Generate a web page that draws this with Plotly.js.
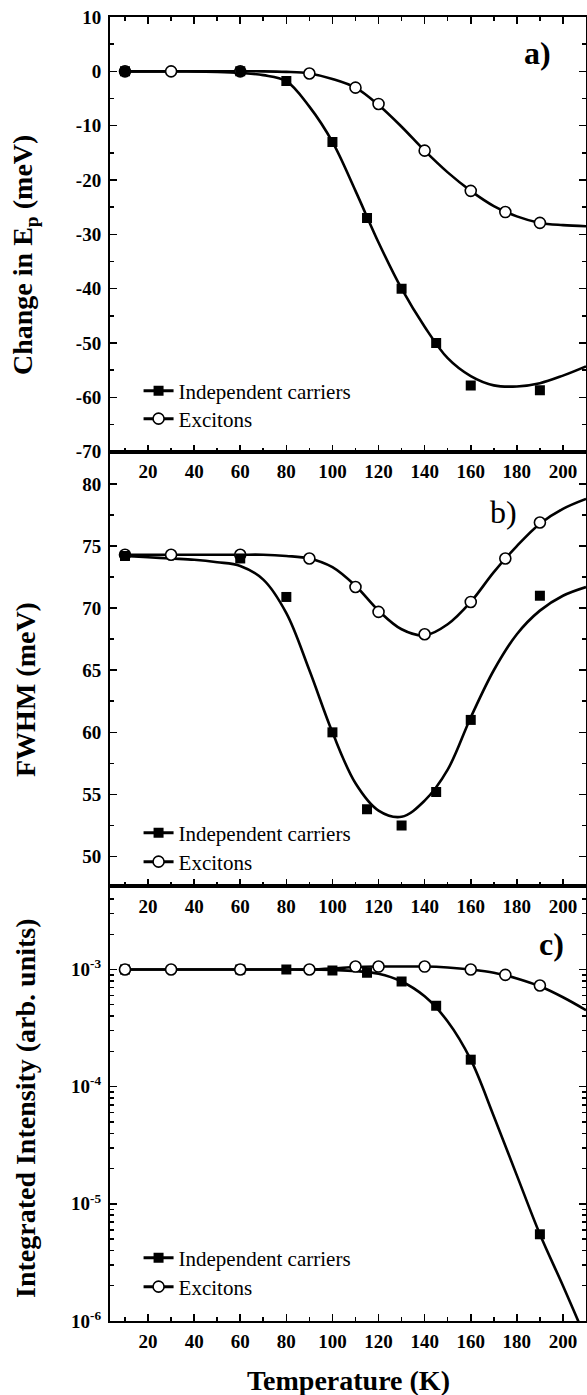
<!DOCTYPE html>
<html>
<head>
<meta charset="utf-8">
<script src="https://cdn.plot.ly/plotly-3.0.1.min.js"></script>
<style>html,body{margin:0;padding:0;background:#fff}#chart{width:587px;height:1395px}</style>
</head>
<body>
<div id="chart"></div>
<script>
// Temperatures (K)
const tempInd = [10, 60, 80, 100, 115, 130, 145, 160, 190];
const tempExc = [10, 30, 60, 90, 110, 120, 140, 160, 175, 190];
const tempFit = [10, 20, 30, 40, 50, 60, 70, 80, 90, 100, 110, 120, 130, 140, 150, 160, 170, 180, 190, 200, 210];

// Panel a: change in Ep (meV)
const epInd = [0, 0, -1.8, -13, -27, -40, -50, -57.8, -58.7];
const epExc = [0, 0, 0, -0.4, -3, -6, -14.6, -22, -25.9, -27.9];
const epIndFit = [0, 0, 0, 0, -0.1, -0.3, -0.7, -1.8, -6.5, -13, -22, -31.5, -40, -47, -52.8, -56.1, -57.8, -58, -57.4, -56, -54.3];
const epExcFit = [0, 0, 0, 0, 0, 0, 0, -0.1, -0.4, -1.4, -3, -6.2, -10.2, -14.6, -18.6, -22, -24.8, -26.7, -27.9, -28.3, -28.5];

// Panel b: FWHM (meV)
const fwInd = [74.2, 74.0, 70.9, 60.0, 53.8, 52.5, 55.2, 61.0, 71.0];
const fwExc = [74.3, 74.3, 74.3, 74.0, 71.7, 69.7, 67.9, 70.5, 74.0, 76.9];
const fwIndFit = [74.2, 74.1, 74.0, 73.9, 73.7, 73.4, 72.3, 69.6, 65.0, 60.0, 55.9, 53.7, 53.2, 54.5, 57.0, 61.2, 65.0, 67.9, 69.8, 71.0, 71.7];
const fwExcFit = [74.3, 74.3, 74.3, 74.3, 74.3, 74.3, 74.3, 74.2, 74.0, 73.3, 71.8, 69.8, 68.3, 67.8, 68.7, 70.5, 72.9, 75.0, 76.8, 78.0, 78.8];

// Panel c: integrated intensity (arb. units)
const iiInd = [1.0e-3, 1.0e-3, 1.0e-3, 9.8e-4, 9.4e-4, 7.9e-4, 4.9e-4, 1.7e-4, 5.5e-6];
const iiExc = [1.0e-3, 1.0e-3, 1.0e-3, 1.0e-3, 1.06e-3, 1.06e-3, 1.06e-3, 1.0e-3, 9.0e-4, 7.3e-4];
const iiIndFit = [1e-3, 1e-3, 1e-3, 1e-3, 1e-3, 1e-3, 1e-3, 1e-3, 1e-3, 9.9e-4, 9.7e-4, 9.2e-4, 7.9e-4, 5.9e-4, 3.6e-4, 1.7e-4, 5.6e-5, 1.75e-5, 5.5e-6, 2.0e-6, 7.0e-7];
const iiExcFit = [1e-3, 1e-3, 1e-3, 1e-3, 1e-3, 1e-3, 1e-3, 1e-3, 1e-3, 1.02e-3, 1.05e-3, 1.06e-3, 1.06e-3, 1.06e-3, 1.04e-3, 1.0e-3, 9.4e-4, 8.4e-4, 7.2e-4, 5.8e-4, 4.5e-4];

// Tick labels
const xTickVals = [20, 40, 60, 80, 100, 120, 140, 160, 180, 200];
const aTickVals = [-70, -60, -50, -40, -30, -20, -10, 0, 10];
const aTickText = ['-70', '-60', '-50', '-40', '-30', '-20', '-10', '0', '10'];
const bTickVals = [50, 55, 60, 65, 70, 75, 80];
const cTickVals = [1e-6, 1e-5, 1e-4, 1e-3];
const cTickText = ['10<sup>-6</sup>', '10<sup>-5</sup>', '10<sup>-4</sup>', '10<sup>-3</sup>'];

const seriesNames = ['Independent carriers', 'Excitons'];
const panelLabels = ['a)', 'b)', 'c)'];
const yTitles = ['Change in E<sub>p</sub> (meV)', 'FWHM (meV)', 'Integrated Intensity (arb. units)'];
const xTitle = 'Temperature (K)';

const FONT = "'Liberation Serif', 'Times New Roman', serif";
const sqMarker = {symbol: 'square', size: 10, color: '#000', line: {width: 0}};
const ciMarker = {symbol: 'circle', size: 11, color: '#fff', line: {width: 1.6, color: '#000'}};
const fitLine = {color: '#000', width: 2.6, shape: 'spline', smoothing: 1};

// legend rows: pixel centre of each legend entry, per panel
const legendRowsPx = [[391, 419], [833, 862], [1258, 1287]];

const traces = [];
const legends = {};
let legendCount = 0;
function legendCfg(py) {
  return {x: 0.06, y: (1321 - py) / 1304, xanchor: 'left', yanchor: 'middle', bgcolor: 'rgba(0,0,0,0)', borderwidth: 0,
    font: {family: FONT, size: 21, color: '#000'}, itemwidth: 30};
}
function nextLegend(py) {
  legendCount += 1;
  const key = legendCount === 1 ? 'legend' : 'legend' + legendCount;
  legends[key] = legendCfg(py);
  return key;
}
function panel(n, indY, excY, indFit, excFit, squaresOnTop) {
  const xa = n === 1 ? 'x' : 'x' + n;
  const ya = n === 1 ? 'y' : 'y' + n;
  traces.push({x: tempFit, y: indFit, xaxis: xa, yaxis: ya, mode: 'lines', line: fitLine, showlegend: false, hoverinfo: 'skip'});
  traces.push({x: tempFit, y: excFit, xaxis: xa, yaxis: ya, mode: 'lines', line: fitLine, showlegend: false, hoverinfo: 'skip'});
  const sq = {x: tempInd, y: indY, xaxis: xa, yaxis: ya, mode: 'markers', marker: sqMarker, showlegend: false};
  const ci = {x: tempExc, y: excY, xaxis: xa, yaxis: ya, mode: 'markers', marker: ciMarker, showlegend: false};
  if (squaresOnTop) { traces.push(ci, sq); } else { traces.push(sq, ci); }
  const rows = legendRowsPx[n - 1];
  traces.push({x: [null], y: [null], xaxis: xa, yaxis: ya, mode: 'lines+markers', name: seriesNames[0],
    line: {color: '#000', width: 3}, marker: sqMarker, legend: nextLegend(rows[0])});
  traces.push({x: [null], y: [null], xaxis: xa, yaxis: ya, mode: 'lines+markers', name: seriesNames[1],
    line: {color: '#000', width: 3}, marker: ciMarker, legend: nextLegend(rows[1])});
}
panel(1, epInd, epExc, epIndFit, epExcFit, true);
panel(2, fwInd, fwExc, fwIndFit, fwExcFit, true);
panel(3, iiInd, iiExc, iiIndFit, iiExcFit, false);

const tickFont = {family: FONT, size: 19, color: '#000', weight: 700};
function xAxis(anchor, mirror) {
  return {
    anchor: anchor, domain: [0, 1], range: [3.5, 210], tickmode: 'array', tickvals: xTickVals,
    ticks: 'inside', ticklen: 7, tickwidth: 1.6, tickcolor: '#000',
    minor: {ticks: 'inside', dtick: 10, tick0: 0, ticklen: 4, tickwidth: 1.6, tickcolor: '#000'},
    showline: true, linewidth: 2, linecolor: '#000', mirror: mirror,
    showgrid: false, zeroline: false, tickfont: tickFont, ticklabelstandoff: 2
  };
}
function yBase() {
  return {ticks: 'inside', ticklen: 7, tickwidth: 1.6, tickcolor: '#000', showline: true, linewidth: 2,
    linecolor: '#000', mirror: 'ticks', showgrid: false, zeroline: false, tickfont: tickFont, ticklabelstandoff: 3};
}
const cMinor = [];
for (let d = -6; d <= -3; d++) { for (let k = 2; k <= 9; k++) { cMinor.push(k * Math.pow(10, d)); } }

const ya = Object.assign(yBase(), {anchor: 'x', domain: [2/3, 1], range: [-70, 10], tickmode: 'array', tickvals: aTickVals, ticktext: aTickText,
  minor: {ticks: 'inside', dtick: 5, tick0: 0, ticklen: 4, tickwidth: 1.6, tickcolor: '#000'}});
const yb = Object.assign(yBase(), {anchor: 'x2', domain: [1/3, 2/3], range: [47.6, 82.6], tickmode: 'array', tickvals: bTickVals,
  minor: {ticks: 'inside', dtick: 2.5, tick0: 0, ticklen: 4, tickwidth: 1.6, tickcolor: '#000'}});
const yc = Object.assign(yBase(), {anchor: 'x3', domain: [0, 1/3], type: 'log', range: [-6, -2.29], tickmode: 'array', tickvals: cTickVals, ticktext: cTickText,
  minor: {ticks: 'inside', tickmode: 'array', tickvals: cMinor, ticklen: 4, tickwidth: 1.4, tickcolor: '#000'}});

const titleFont = {family: FONT, size: 28, color: '#000', weight: 700};
const annotations = [];
const titleY = [255, 690, 1108];
titleY.forEach((py, i) => {
  annotations.push({text: yTitles[i], xref: 'paper', yref: 'paper', x: 0, y: (1321 - py) / 1304, xanchor: 'center', yanchor: 'middle',
    xshift: -85, textangle: -90, showarrow: false, font: titleFont});
});
annotations.push({text: xTitle, xref: 'paper', yref: 'paper', x: 0.5, y: 0, xanchor: 'center', yanchor: 'middle', yshift: -59,
  showarrow: false, font: titleFont});
const labelPos = [[537, 53, 700], [503, 512, 400], [551, 944, 700]];
labelPos.forEach((p, i) => {
  annotations.push({text: panelLabels[i], xref: 'paper', yref: 'paper', x: (p[0] - 110) / 476, y: (1321 - p[1]) / 1304,
    xanchor: 'center', yanchor: 'middle', showarrow: false, font: {family: FONT, size: 32, color: '#000', weight: p[2]}});
});

const layout = Object.assign({
  width: 587, height: 1395, margin: {l: 110, r: 1, t: 17, b: 74, pad: 0},
  paper_bgcolor: '#fff', plot_bgcolor: '#fff', font: {family: FONT, color: '#000'},
  xaxis: xAxis('y', 'ticks'), xaxis2: xAxis('y2', true), xaxis3: xAxis('y3', true),
  yaxis: ya, yaxis2: yb, yaxis3: yc,
  annotations: annotations, showlegend: true
}, legends);
Plotly.newPlot('chart', traces, layout, {staticPlot: true, displayModeBar: false});
</script>
</body>
</html>
